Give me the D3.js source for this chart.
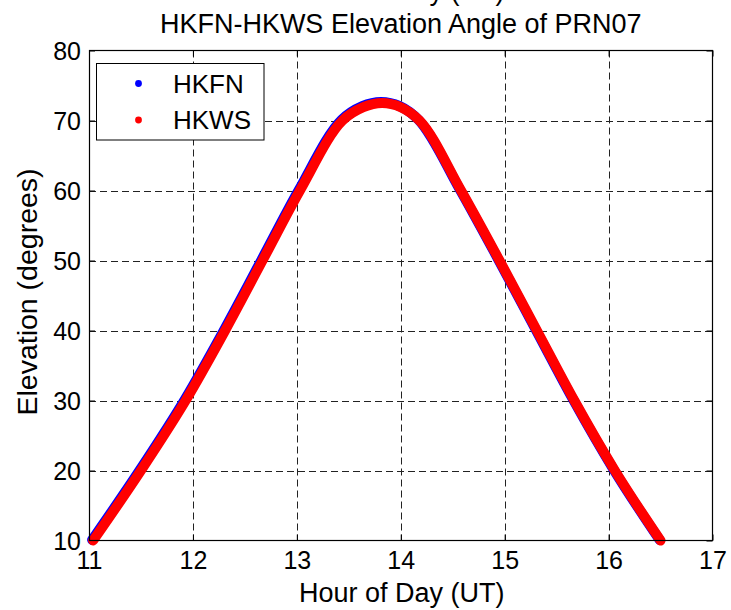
<!DOCTYPE html>
<html><head><meta charset="utf-8">
<script src="https://cdn.jsdelivr.net/npm/d3@7"></script>
<style>
html,body{margin:0;padding:0;background:#fff;}
svg{display:block;font-family:"Liberation Sans",Arial,Helvetica,sans-serif;}
</style></head>
<body>
<svg id="c" width="731" height="610"></svg>
<script>
// ---- data ----
const titleLines = ["Hour of Day (UT)", "HKFN-HKWS Elevation Angle of PRN07"];
const xLabel = "Hour of Day (UT)";
const yLabel = "Elevation (degrees)";
const xTicks = [11, 12, 13, 14, 15, 16, 17];
const yTicks = [10, 20, 30, 40, 50, 60, 70, 80];
const seriesNames = ["HKFN", "HKWS"];
const seriesColors = ["#0000ff", "#ff0000"];
// HKWS (red) read along the centre of the band
const hkwsHours = [11.04, 11.50, 11.93, 12.31, 12.67, 13.03, 13.44, 13.64, 13.82, 14.00, 14.18, 14.58, 14.95, 15.31, 15.67, 16.06, 16.50];
const hkwsElev  = [10.0,  20.0,  30.0,  40.0,  50.0,  60.0,  70.0,  71.9,  72.5,  71.9,  70.0,  60.0,  50.0,  40.0,  30.0,  20.0,  10.0];
// HKFN (blue) peeks out at the upper-left edge
const hkfnHours = [11.03, 11.49, 11.92, 12.30, 12.66, 13.02, 13.43, 13.63, 13.81, 13.99, 14.17, 14.57, 14.94, 15.30, 15.66, 16.05, 16.49];
const hkfnElev  = [10.1,  20.1,  30.1,  40.1,  50.1,  60.1,  70.1,  72.05, 72.65, 72.05, 70.1,  60.1,  50.1,  40.1,  30.1,  20.1,  10.1];

const svg = d3.select("#c");
const L = 89, R = 712.5, T = 50.5, B = 540.5;
const x = d3.scaleLinear().domain([11, 17]).range([L, R]);
const y = d3.scaleLinear().domain([10, 80]).range([B, T]);

// grid
const grid = svg.append("g").attr("stroke", "#222").attr("stroke-width", 1).attr("stroke-dasharray", "7,4");
grid.selectAll("line.vx").data(xTicks.slice(1, -1)).join("line")
  .attr("x1", d => Math.round(x(d)) + 0.5).attr("x2", d => Math.round(x(d)) + 0.5)
  .attr("y1", T).attr("y2", B);
grid.selectAll("line.hy").data(yTicks.slice(1, -1)).join("line")
  .attr("y1", d => Math.round(y(d)) + 0.5).attr("y2", d => Math.round(y(d)) + 0.5)
  .attr("x1", L).attr("x2", R);

// axes (ticks inward)
const tfs = 25, lfs = 27;
const axB = svg.append("g").attr("transform", `translate(0,${B})`)
  .call(d3.axisBottom(x).tickValues(xTicks).tickSize(-6).tickPadding(11).tickFormat(d3.format("d")));
const axT = svg.append("g").attr("transform", `translate(0,${T})`)
  .call(d3.axisTop(x).tickValues(xTicks).tickSize(-6).tickFormat(""));
const axL = svg.append("g").attr("transform", `translate(${L},0)`)
  .call(d3.axisLeft(y).tickValues(yTicks).tickSize(-6).tickPadding(8).tickFormat(d3.format("d")));
const axR = svg.append("g").attr("transform", `translate(${R},0)`)
  .call(d3.axisRight(y).tickValues(yTicks).tickSize(-6).tickFormat(""));
[axB, axT, axL, axR].forEach(a => {
  a.select(".domain").remove();
  a.selectAll("line").attr("stroke", "#000");
  a.selectAll("text").attr("font-size", tfs).attr("fill", "#000")
    .attr("font-family", "'Liberation Sans',Arial,sans-serif");
});
axB.selectAll("text").attr("dy", "0.71em");
axL.selectAll("text").attr("dy", "0.36em");

// series
const line = d3.line().curve(d3.curveMonotoneX).x(d => x(d[0])).y(d => y(d[1]));
const plot = svg.append("g");
plot.append("path").datum(d3.zip(hkfnHours, hkfnElev)).attr("d", line)
  .attr("fill", "none").attr("stroke", seriesColors[0]).attr("stroke-width", 10).attr("stroke-linecap", "round");
plot.append("path").datum(d3.zip(hkwsHours, hkwsElev)).attr("d", line)
  .attr("fill", "none").attr("stroke", seriesColors[1]).attr("stroke-width", 10).attr("stroke-linecap", "round");

// frame
svg.append("rect").attr("x", L + 0.5).attr("y", T).attr("width", R - L - 0.5).attr("height", B - T)
  .attr("fill", "none").attr("stroke", "#000").attr("stroke-width", 1.2);

// legend
const lg = svg.append("g");
lg.append("rect").attr("x", 96.5).attr("y", 63.5).attr("width", 167.5).attr("height", 76.5)
  .attr("fill", "#fff").attr("stroke", "#000").attr("stroke-width", 1);
seriesNames.forEach((n, i) => {
  const cy = 83.5 + i * 36.5;
  lg.append("circle").attr("cx", 138.5).attr("cy", cy).attr("r", 3.4).attr("fill", seriesColors[i]);
  lg.append("text").attr("x", 173).attr("y", cy + 9.3).attr("font-size", 26)
    .attr("fill", "#000").text(n);
});

// titles and labels
svg.append("text").attr("x", (L + R) / 2 + 1).attr("y", -0.5).attr("text-anchor", "middle")
  .attr("font-size", lfs).attr("fill", "#000").text(titleLines[0]);
svg.append("text").attr("x", (L + R) / 2).attr("y", 32.5).attr("text-anchor", "middle")
  .attr("font-size", lfs).attr("fill", "#000").text(titleLines[1]);
svg.append("text").attr("x", (L + R) / 2 + 1).attr("y", 602).attr("text-anchor", "middle")
  .attr("font-size", lfs).attr("fill", "#000").text(xLabel);
svg.append("text").attr("transform", `translate(37,292) rotate(-90)`).attr("text-anchor", "middle")
  .attr("font-size", 28.5).attr("fill", "#000").text(yLabel);
</script>
</body></html>
